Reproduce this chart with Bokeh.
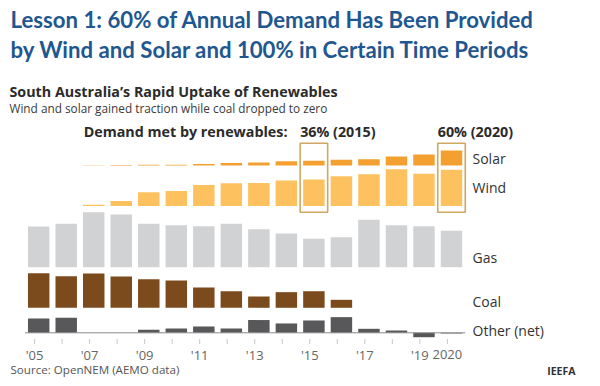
from bokeh.plotting import figure
from bokeh.models import Range1d, Label, ColumnDataSource
from bokeh.core.properties import value
from bokeh.embed import file_html
from bokeh.resources import INLINE

# ---------------- data (share of demand, %) ----------------
years = list(range(2005, 2021))
solar = [0, 0, 0.3, 0.5, 0.8, 1.0, 1.8, 2.8, 3.5, 5.0, 5.5, 6.7, 7.4, 10.5, 13.0, 17.6]
wind = [0, 0, 1.4, 5.9, 16.2, 17.6, 24.7, 26.8, 27.0, 30.0, 31.2, 35.0, 37.4, 43.3, 37.9, 42.6]
gas = [47.9, 51.0, 64.7, 62.0, 51.0, 49.4, 48.2, 51.0, 44.7, 39.6, 33.4, 35.3, 55.8, 49.4, 48.2, 42.8]
coal = [40.7, 37.2, 40.4, 36.8, 33.6, 32.1, 23.9, 19.5, 13.3, 18.4, 19.5, 9.4, 0, 0, 0, 0]
other = [16.8, 17.6, 0, 0, 3.5, 5.0, 7.4, 5.0, 15.0, 11.0, 14.5, 18.4, 4.7, 2.7, -5.2, -0.8]
tick_labels = ["'05", "", "'07", "", "'09", "", "'11", "", "'13", "", "'15", "", "'17", "", "'19", "2020"]
highlight_years = [2015, 2020]
highlight_labels = ["36% (2015)", "60% (2020)"]
series_names = ["Solar", "Wind", "Gas", "Coal", "Other (net)"]

# ---------------- layout constants ----------------
W, H = 600, 386
PITCH = 27.52            # px per year
K = 0.85                 # px per percentage point
X0 = 2005 - 38.2 / PITCH
X1 = X0 + W / PITCH
TICK_SHIFT = -0.15
bases = [165, 205.5, 266.7, 307.3, 332.3]
colors = ["#F4A031", "#FDC15F", "#D1D2D4", "#7B4B1E", "#58585A"]
label_y = [158, 187, 257, 301, 329.5]
FONT = "Open Sans"

p = figure(width=W, height=H, output_backend="svg", toolbar_location=None,
           x_range=Range1d(X0, X1), y_range=Range1d(H, 0),
           x_axis_location=None, y_axis_location=None,
           min_border_left=0, min_border_right=0, min_border_top=0, min_border_bottom=0)
p.grid.visible = False
p.outline_line_color = None
p.background_fill_color = "white"
p.border_fill_color = "white"

# highlight boxes
p.quad(left=[y - 0.5 for y in highlight_years], right=[y + 0.5 for y in highlight_years],
       top=142.7, bottom=211.7, fill_color=None, line_color="#CFA862", line_width=1.6)

# bars
for vals, base, col in zip([solar, wind, gas, coal, other], bases, colors):
    src = ColumnDataSource(dict(x=years, top=[base - K * v for v in vals], bottom=[base] * len(vals)))
    p.vbar(x="x", top="top", bottom="bottom", width=0.78, source=src,
           fill_color=col, line_color=None)

# zero line for "other"
p.segment(x0=[2004.5], y0=[bases[4]], x1=[2020.5], y1=[bases[4]], line_color="#8a8a8a", line_width=1)

# x axis (ticks + labels)
tx = [y + TICK_SHIFT for y in years]
p.segment(x0=tx, y0=[338.5] * len(tx), x1=tx, y1=[343.5] * len(tx), line_color="#c8c8c8", line_width=1)
p.text(x=tx, y=[354] * len(tx), text=tick_labels, text_font=value(FONT), text_font_size="13px",
       text_color="#666666", text_align="center", text_baseline="middle")


def lab(text, x, y, size, color="#333333", bold=False, font=FONT, align="left", xunits="screen"):
    p.add_layout(Label(x=x, y=y, x_units=xunits, y_units="data", text=text,
                       text_font=font, text_font_size=size, text_color=color,
                       text_font_style="bold" if bold else "normal",
                       text_align=align, text_baseline="middle"))


# titles
lab("Lesson 1: 60% of Annual Demand Has Been Provided", 10, 19, "22.2px", "#1F5790", True, "Lato")
lab("by Wind and Solar and 100% in Certain Time Periods", 10, 49, "22.2px", "#1F5790", True, "Lato")
lab("South Australia\u2019s Rapid Uptake of Renewables", 9, 91, "14.3px", "#2b2b2b", True)
lab("Wind and solar gained traction while coal dropped to zero", 9, 107, "11.8px", "#3a3a3a")
lab("Demand met by renewables:", 287, 130.5, "14.3px", "#2b2b2b", True, align="right")
for yr, t in zip(highlight_years, highlight_labels):
    lab(t, yr - 0.5, 131, "14.3px", "#2b2b2b", True, xunits="data")

# row labels
for name, ly in zip(series_names, label_y):
    lab(name, 472, ly, "14px", "#333333")

lab("Source: OpenNEM (AEMO data)", 10, 369, "11.6px", "#555555")
lab("IEEFA", 575, 370, "10.5px", "#333333", True, align="right")

open("out.html", "w").write(file_html(p, INLINE))
